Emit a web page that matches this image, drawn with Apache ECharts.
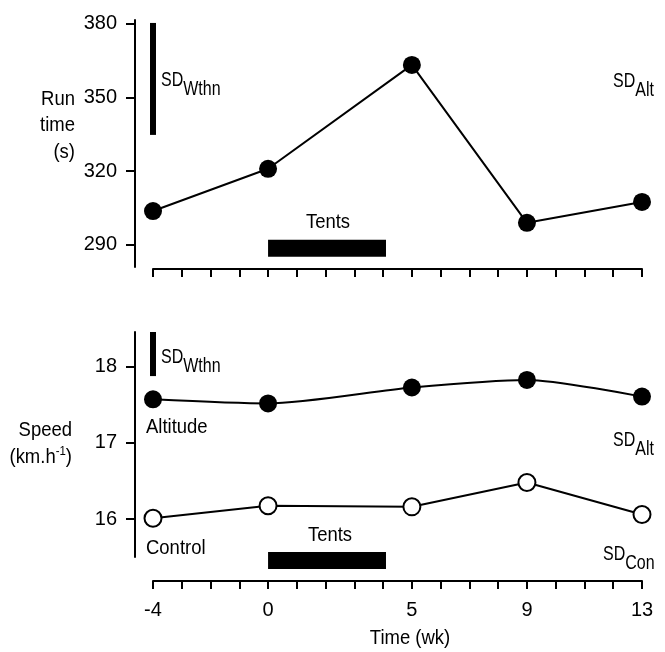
<!DOCTYPE html>
<html><head><meta charset="utf-8">
<script src="https://cdn.jsdelivr.net/npm/echarts@6/dist/echarts.min.js"></script>
<style>html,body{margin:0;padding:0;background:#fff}#c{width:665px;height:652px}</style>
</head><body><div id="c"></div>
<script>
const weeks = [-4, 0, 5, 9, 13];
const xTickLabels = [-4, 0, 5, 9, 13];
const runTime = [303.8, 321, 363.3, 299, 307.5];
const runTimeTicks = [290, 320, 350, 380];
const speedAltitude = [17.575, 17.52, 17.73, 17.83, 17.61];
const speedControl = [16.01, 16.175, 16.16, 16.48, 16.06];
const speedTicks = [16, 17, 18];
const tentsWeeks = [0, 4.1];
const sdWithinRun = [380.4, 334.8];
const sdWithinSpeed = [18.46, 17.88];

const FONT = "'Liberation Sans', Arial, sans-serif";
const SX = 0.88;
const pair = (xs, ys) => xs.map((x, i) => [x, ys[i]]);

const measureCtx = document.createElement('canvas').getContext('2d');
function textWidth(text, font) { measureCtx.font = font; return measureCtx.measureText(text).width; }

const chart = echarts.init(document.getElementById('c'), null, {renderer: 'canvas'});

function xAxisCfg(gridIndex, offset, showLabels) {
  return {
    type: 'value', gridIndex, min: -4, max: 13, interval: 1, offset,
    axisLine: {show: true, onZero: false, lineStyle: {color: '#000', width: 2}},
    axisTick: {show: true, length: 8, lineStyle: {color: '#000', width: 2}},
    axisLabel: {show: showLabels, customValues: xTickLabels, margin: 19,
      color: '#000', fontSize: 20, fontFamily: FONT},
    splitLine: {show: false}
  };
}
function yAxisCfg(gridIndex, min, max, ticks) {
  return {
    type: 'value', gridIndex, min, max, offset: 18, position: 'left',
    axisLine: {show: true, onZero: false, lineStyle: {color: '#000', width: 2}},
    axisTick: {show: true, length: 9, customValues: ticks, lineStyle: {color: '#000', width: 2}},
    axisLabel: {customValues: ticks, margin: 18, color: '#000', fontSize: 20, fontFamily: FONT},
    splitLine: {show: false}
  };
}

const txt = (text, x, y, align, font, sx) => ({
  type: 'text', x, y, scaleX: sx || SX,
  style: {text, textAlign: align || 'left', textVerticalAlign: 'middle',
    font: font || ('21px ' + FONT), fill: '#000'}
});
// "SD" with a lowered subscript, SD centred at (x, yc)
function sdTxt(sub, x, yc) {
  const f = '20px ' + FONT, s = 0.8;
  const w = textWidth('SD', f) * s;
  return [txt('SD', x, yc, 'left', f, s), txt(sub, x + w, yc + 9, 'left', f, s)];
}
// "(km.h" + raised "-1" + ")", right-aligned at x
function unitTxt(x, yc) {
  const f = '21px ' + FONT, fs = '13px ' + FONT;
  const wClose = textWidth(')', f) * SX;
  const wSup = textWidth('-1', fs) * SX;
  return [
    txt(')', x, yc, 'right', f, SX),
    txt('-1', x - wClose, yc - 6, 'right', fs, SX),
    txt('(km.h', x - wClose - wSup, yc, 'right', f, SX)
  ];
}

const option = {
  backgroundColor: '#fff',
  animation: false,
  grid: [
    {left: 153, right: 23, top: 20, height: 247},
    {left: 153, right: 23, top: 332, height: 225}
  ],
  xAxis: [xAxisCfg(0, 2, false), xAxisCfg(1, 24, true)],
  yAxis: [yAxisCfg(0, 281, 381.6, runTimeTicks), yAxisCfg(1, 15.5, 18.46, speedTicks)],
  series: [
    {type: 'line', xAxisIndex: 0, yAxisIndex: 0, clip: false, data: pair(weeks, runTime),
      symbol: 'circle', symbolSize: 18, itemStyle: {color: '#000'}, lineStyle: {color: '#000', width: 2}},
    {type: 'line', xAxisIndex: 1, yAxisIndex: 1, clip: false, data: pair(weeks, speedAltitude), smooth: 0.25,
      symbol: 'circle', symbolSize: 18, itemStyle: {color: '#000'}, lineStyle: {color: '#000', width: 2}},
    {type: 'line', xAxisIndex: 1, yAxisIndex: 1, clip: false, data: pair(weeks, speedControl),
      symbol: 'circle', symbolSize: 17, itemStyle: {color: '#fff', borderColor: '#000', borderWidth: 2},
      lineStyle: {color: '#000', width: 2}},
    {type: 'line', xAxisIndex: 0, yAxisIndex: 0, clip: false, symbol: 'none',
      data: [[weeks[0], sdWithinRun[0]], [weeks[0], sdWithinRun[1]]], lineStyle: {color: '#000', width: 6, cap: 'butt'}},
    {type: 'line', xAxisIndex: 1, yAxisIndex: 1, clip: false, symbol: 'none',
      data: [[weeks[0], sdWithinSpeed[0]], [weeks[0], sdWithinSpeed[1]]], lineStyle: {color: '#000', width: 6, cap: 'butt'}},
    {type: 'line', xAxisIndex: 0, yAxisIndex: 0, clip: false, symbol: 'none',
      data: tentsWeeks.map(w => [w, 288.6]), lineStyle: {color: '#000', width: 17, cap: 'butt'}},
    {type: 'line', xAxisIndex: 1, yAxisIndex: 1, clip: false, symbol: 'none',
      data: tentsWeeks.map(w => [w, 15.455]), lineStyle: {color: '#000', width: 17, cap: 'butt'}}
  ],
  graphic: [
    txt('Run', 75, 99, 'right'),
    txt('time', 75, 125, 'right'),
    txt('(s)', 75, 152, 'right'),
    txt('Speed', 72, 430, 'right'),
    ...unitTxt(72, 457),
    ...sdTxt('Wthn', 161, 80),
    ...sdTxt('Alt', 613, 81.5),
    ...sdTxt('Wthn', 161, 357.5),
    ...sdTxt('Alt', 613, 440.5),
    ...sdTxt('Con', 603, 554.5),
    txt('Altitude', 146, 427, 'left'),
    txt('Control', 146, 548, 'left'),
    txt('Tents', 328, 222, 'center'),
    txt('Tents', 330, 535, 'center'),
    txt('Time (wk)', 410, 638, 'center')
  ]
};
chart.setOption(option);
</script>
</body></html>
